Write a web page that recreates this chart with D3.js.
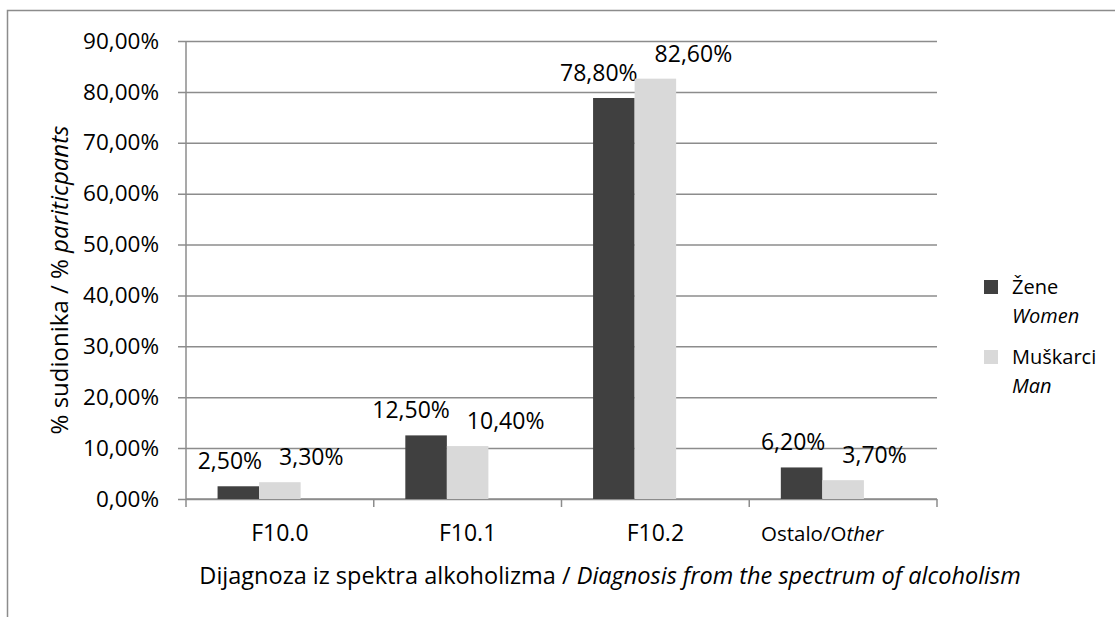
<!DOCTYPE html>
<html>
<head>
<meta charset="utf-8">
<script src="https://cdn.jsdelivr.net/npm/d3@7"></script>
<style>
  body { margin: 0; background: #fff; }
  text { font-family: "Open Sans", Lato, sans-serif; fill: #000; }
</style>
</head>
<body>
<script>
// data
var categories = ['F10.0', 'F10.1', 'F10.2', 'Ostalo/Other'];
var women = [2.5, 12.5, 78.8, 6.2];
var men = [3.3, 10.4, 82.6, 3.7];
var yTicks = [0, 10, 20, 30, 40, 50, 60, 70, 80, 90];
var seriesNames = ['Žene', 'Muškarci'];
var seriesSub = ['Women', 'Man'];
var seriesColors = ['#404040', '#d9d9d9'];

var width = 1115;
var height = 617;
var plotLeft = 186, plotRight = 937, plotTop = 41, plotBottom = 499;

var svg = d3.select('body').append('svg')
  .attr('width', width)
  .attr('height', height);

// outer chart frame (cut off by the picture at right and bottom)
svg.append('rect')
  .attr('x', 7.5).attr('y', 10.5)
  .attr('width', 1120).attr('height', 620)
  .attr('fill', 'none')
  .attr('stroke', '#8c8c8c')
  .attr('stroke-width', 1.5);

var x = d3.scaleBand().domain(categories).range([plotLeft, plotRight]).padding(0);
// third slot is an empty series in the original
var xs = d3.scaleBand().domain([0, 1, 2]).range([0, x.bandwidth()]).paddingInner(0).paddingOuter(0.76);
var y = d3.scaleLinear().domain([0, 90]).range([plotBottom, plotTop]);

// y axis with gridlines
var yAxis = d3.axisLeft(y)
  .tickValues(yTicks)
  .tickSize(8)
  .tickFormat(function(d) { return d.toFixed(2).replace('.', ',') + '%'; });

var gy = svg.append('g')
  .attr('transform', 'translate(' + plotLeft + ',0)')
  .call(yAxis);
gy.select('.domain').remove();
gy.selectAll('line').attr('stroke', '#8c8c8c').attr('stroke-width', 1.5)
  .attr('x1', -8).attr('x2', plotRight - plotLeft);
gy.selectAll('text')
  .attr('x', -27)
  .attr('font-size', 22.5)
  .attr('font-family', '"Open Sans", sans-serif')
  .attr('fill', '#000');

svg.append('line')
  .attr('x1', plotLeft).attr('x2', plotLeft)
  .attr('y1', plotTop).attr('y2', plotBottom)
  .attr('stroke', '#8c8c8c').attr('stroke-width', 1.5);

// x axis
svg.append('line')
  .attr('x1', plotLeft).attr('x2', plotRight)
  .attr('y1', plotBottom).attr('y2', plotBottom)
  .attr('stroke', '#8c8c8c').attr('stroke-width', 1.5);

var bounds = categories.map(function(c) { return x(c); }).concat([plotRight]);
svg.selectAll('.xtick').data(bounds).enter().append('line')
  .attr('x1', function(d) { return d; })
  .attr('x2', function(d) { return d; })
  .attr('y1', plotBottom).attr('y2', plotBottom + 8)
  .attr('stroke', '#8c8c8c').attr('stroke-width', 1.5);

var catLabels = svg.selectAll('.cat').data(categories).enter().append('text')
  .attr('x', function(d) { return x(d) + x.bandwidth() / 2; })
  .attr('y', 541)
  .attr('text-anchor', 'middle')
  .attr('font-size', function(d) { return d.indexOf('/') > 0 ? 20.5 : 23; });
catLabels.each(function(d) {
  var t = d3.select(this);
  var parts = d.split('/');
  if (parts.length > 1) {
    t.attr('dx', -21);
    t.append('tspan').text(parts[0] + '/O');
    t.append('tspan').attr('font-style', 'italic').text(parts[1].slice(1));
  } else {
    t.text(d);
  }
});

// bars
var series = [women, men];
series.forEach(function(vals, s) {
  svg.selectAll('.bar' + s).data(vals).enter().append('rect')
    .attr('x', function(d, i) { return x(categories[i]) + xs(s); })
    .attr('y', function(d) { return y(d); })
    .attr('width', xs.bandwidth())
    .attr('height', function(d) { return plotBottom - y(d); })
    .attr('fill', seriesColors[s]);

  svg.selectAll('.lab' + s).data(vals).enter().append('text')
    .attr('x', function(d, i) {
      return s === 0 ? x(categories[i]) + xs(s) + xs.bandwidth() + 3
                     : x(categories[i]) + xs(s) + 20;
    })
    .attr('y', function(d) { return y(d) - 17; })
    .attr('text-anchor', s === 0 ? 'end' : 'start')
    .attr('font-size', 23)
    .text(function(d) { return d.toFixed(2).replace('.', ',') + '%'; });
});

// axis titles
var yt = svg.append('text')
  .attr('transform', 'translate(68,280) rotate(-90)')
  .attr('text-anchor', 'middle')
  .attr('font-size', 24);
yt.append('tspan').text('% sudionika / % ');
yt.append('tspan').attr('font-style', 'italic').text('pariticpants');

var xt = svg.append('text')
  .attr('x', 610).attr('y', 584)
  .attr('text-anchor', 'middle')
  .attr('font-size', 23.5);
xt.append('tspan').text('Dijagnoza iz spektra alkoholizma / ');
xt.append('tspan').attr('font-style', 'italic').text('Diagnosis from the spectrum of alcoholism');

// legend
var legend = svg.selectAll('.leg').data(seriesNames).enter().append('g')
  .attr('transform', function(d, i) { return 'translate(984,' + (280 + i * 70) + ')'; });
legend.append('rect')
  .attr('width', 14).attr('height', 14)
  .attr('fill', function(d, i) { return seriesColors[i]; });
legend.append('text')
  .attr('x', 28).attr('y', 14)
  .attr('font-size', 20)
  .text(function(d) { return d; });
legend.append('text')
  .attr('x', 28).attr('y', 43)
  .attr('font-size', 20)
  .attr('font-style', 'italic')
  .text(function(d, i) { return seriesSub[i]; });
</script>
</body>
</html>
